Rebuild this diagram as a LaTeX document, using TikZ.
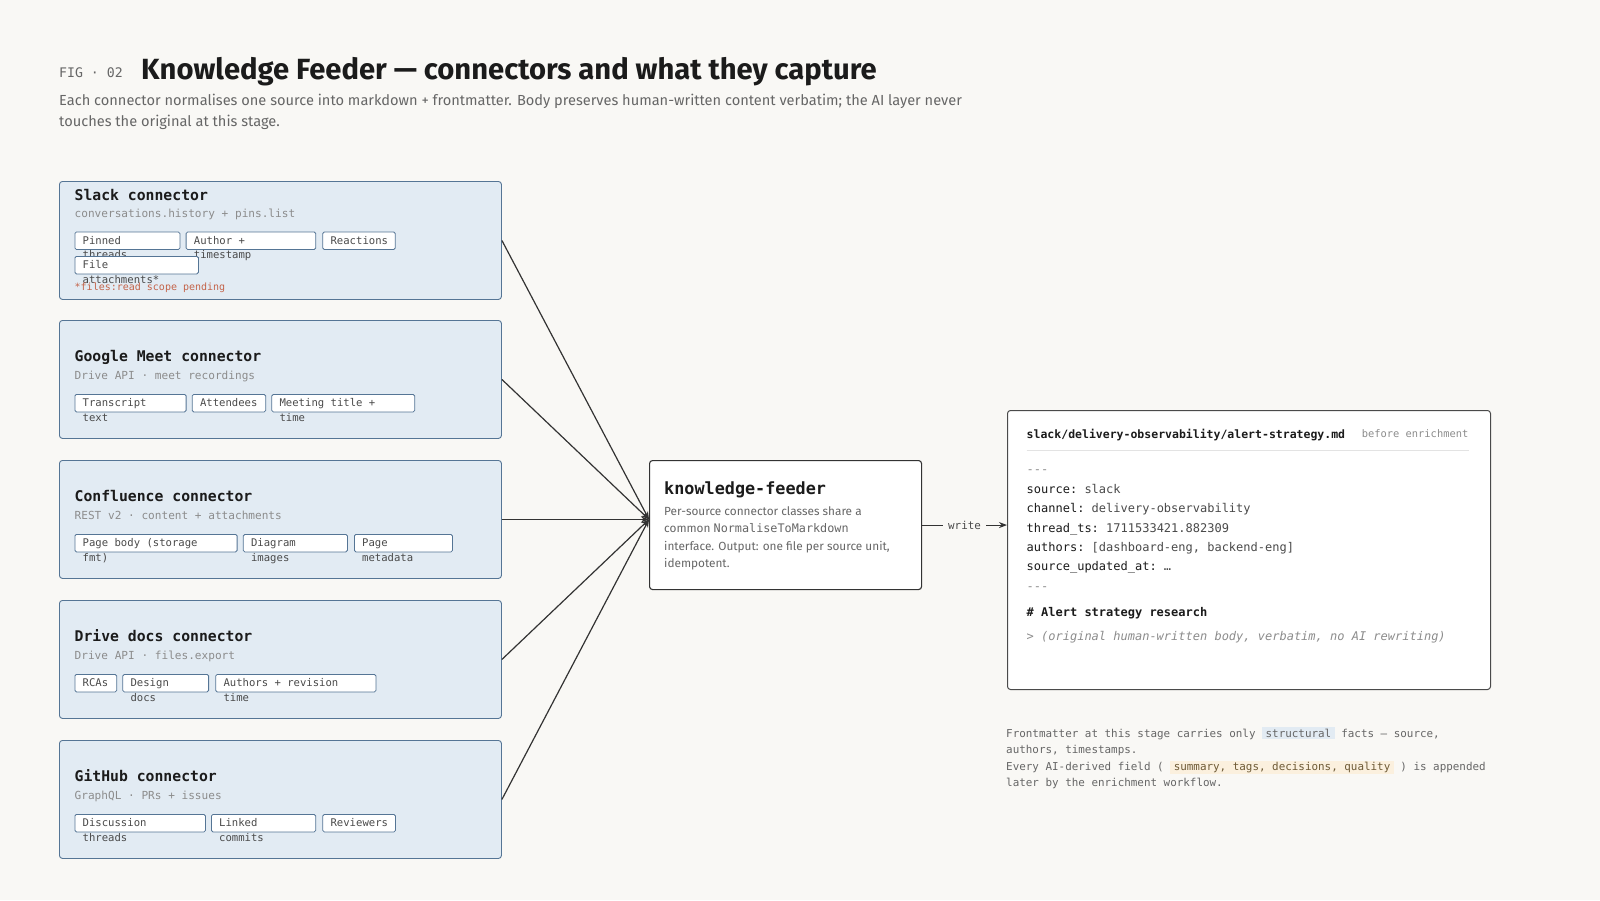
\documentclass[tikz,border=0pt]{standalone}
\usepackage{fontspec}
\setmainfont{Fira Sans}
\setmonofont{DejaVu Sans Mono}
\usetikzlibrary{arrows.meta}

\definecolor{pagebg}{HTML}{F9F8F5}
\definecolor{inkdark}{HTML}{1B1B1B}
\definecolor{inkmid}{HTML}{4A4A4A}
\definecolor{inkgray}{HTML}{666666}
\definecolor{inklight}{HTML}{8C8C8C}
\definecolor{srcfill}{HTML}{E2EBF3}
\definecolor{srcline}{HTML}{557595}
\definecolor{notered}{HTML}{C4644A}
\definecolor{arrowink}{HTML}{333333}
\definecolor{rulegray}{HTML}{E3E3E3}
\definecolor{hlblue}{HTML}{E2EBF3}
\definecolor{hlsand}{HTML}{FBF0DE}
\definecolor{sandink}{HTML}{6E5A36}

\newcommand{\fsz}[1]{\fontsize{#1}{#1}\selectfont}
% chip: name, x, top, width, first line, overflow line
\newcommand{\chip}[6]{%
  \node[chipbox, minimum width=#4] (#1) at (#2,#3) {};
  \node[chiptext] at ([xshift=8]#1.west) {#5};
  \node[chiptext] at ([xshift=8, yshift=-14.5]#1.west) {#6};
}
\newcommand{\fmkey}[1]{\textcolor{inkdark}{#1}}
\newcommand{\hlbox}[3]{{\setlength{\fboxsep}{1.5pt}\colorbox{#1}{\hspace{2pt}\textcolor{#2}{#3}\hspace{2pt}}}}

\begin{document}
\begin{tikzpicture}[x=1pt, y=-1pt,
  srcbox/.style={draw=srcline, fill=srcfill, line width=0.9pt, rounded corners=3pt,
    anchor=north west, minimum width=442pt, minimum height=118pt, inner sep=0pt},
  srctitle/.style={anchor=west, inner sep=0pt, text height=9.7pt, text depth=0pt,
    font=\ttfamily\bfseries\fsz{14.75}, text=inkdark},
  srcsub/.style={anchor=west, inner sep=0pt, text height=7.3pt, text depth=0pt,
    font=\ttfamily\fsz{11.1}, text=inklight},
  chipbox/.style={draw=srcline, fill=white, line width=0.8pt, rounded corners=1.5pt,
    anchor=north west, minimum height=17.5pt, inner sep=0pt},
  chiptext/.style={anchor=west, inner sep=0pt, text height=7pt, text depth=0pt,
    font=\ttfamily\fsz{10.6}, text=inkmid},
  pendnote/.style={anchor=west, inner sep=0pt, text height=6.6pt, text depth=0pt,
    font=\ttfamily\fsz{10}, text=notered},
  feed/.style={draw=arrowink, line width=1.2pt, -{Stealth[length=8pt, width=6pt]}},
  corebox/.style={draw=arrowink, fill=white, line width=1.1pt, rounded corners=3pt,
    anchor=north west, inner sep=0pt},
  coretitle/.style={anchor=west, inner sep=0pt, text height=11.1pt, text depth=0pt,
    font=\ttfamily\bfseries\fsz{16.8}, text=inkdark},
  coreline/.style={anchor=west, inner sep=0pt, text height=7.6pt, text depth=0pt,
    font=\fsz{11.8}, text=inkgray},
  fileline/.style={anchor=west, inner sep=0pt, text height=7.9pt, text depth=0pt,
    font=\ttfamily\fsz{12}, text=inkmid},
  noteline/.style={anchor=west, inner sep=0pt, text height=7.2pt, text depth=0pt,
    font=\ttfamily\fsz{10.9}, text=inkgray},
  writetag/.style={fill=pagebg, inner xsep=5pt, inner ysep=2pt,
    font=\ttfamily\fsz{10.9}, text=inkmid}]

  \fill[pagebg] (0,0) rectangle (1600,900);

  % heading
  \node[anchor=base west, inner sep=0pt, font=\ttfamily\fsz{13.2}, text=inkgray] (fig) at (59,77.6) {FIG · 02};
  \node[anchor=base west, inner sep=0pt, font=\bfseries\fsz{29.2}, text=inkdark] (title) at (141,79)
    {Knowledge Feeder — connectors and what they capture};
  \node[anchor=west, inner sep=0pt, text height=9.6pt, text depth=0pt, font=\fsz{14.6}, text=inkgray] (lead1) at (59,101)
    {Each connector normalises one source into markdown + frontmatter. Body preserves human-written content verbatim; the AI layer never};
  \node[anchor=west, inner sep=0pt, text height=9.6pt, text depth=0pt, font=\fsz{14.6}, text=inkgray] (lead2) at (59,121.5)
    {touches the original at this stage.};

  % source connectors
  \node[srcbox] (slack) at (59,181) {};
  \node[srctitle] at (74.5,196) {Slack connector};
  \node[srcsub] at (74.5,213.8) {conversations.history + pins.list};
  \chip{slpin}{74.5}{231.6}{105}{Pinned}{threads}
  \chip{slauth}{185.7}{231.6}{129.6}{Author +}{timestamp}
  \chip{slreact}{322.4}{231.6}{72.5}{Reactions}{}
  \chip{slfile}{74.5}{256}{123.5}{File}{attachments*}
  \node[pendnote] at (74.5,287.5) {*files:read scope pending};

  \node[srcbox] (meet) at (59,320) {};
  \node[srctitle] at (74.5,357) {Google Meet connector};
  \node[srcsub] at (74.5,376) {Drive API · meet recordings};
  \chip{mttrans}{74.5}{394}{111.2}{Transcript}{text}
  \chip{mtatt}{191.8}{394}{73.5}{Attendees}{}
  \chip{mttitle}{271.4}{394}{142.9}{Meeting title +}{time}

  \node[srcbox] (conf) at (59,460) {};
  \node[srctitle] at (74.5,497) {Confluence connector};
  \node[srcsub] at (74.5,516) {REST v2 · content + attachments};
  \chip{cfbody}{74.5}{534}{162.2}{Page body (storage}{fmt)}
  \chip{cfdiag}{242.9}{534}{104.1}{Diagram}{images}
  \chip{cfmeta}{354}{534}{98}{Page}{metadata}

  \node[srcbox] (drive) at (59,600) {};
  \node[srctitle] at (74.5,637) {Drive docs connector};
  \node[srcsub] at (74.5,656) {Drive API · files.export};
  \chip{dvrca}{74.5}{674}{41.8}{RCAs}{}
  \chip{dvdesign}{122.4}{674}{85.8}{Design}{docs}
  \chip{dvauth}{215.3}{674}{160.2}{Authors + revision}{time}

  \node[srcbox] (gh) at (59,740) {};
  \node[srctitle] at (74.5,777) {GitHub connector};
  \node[srcsub] at (74.5,796) {GraphQL · PRs + issues};
  \chip{ghdisc}{74.5}{814}{130.5}{Discussion}{threads}
  \chip{ghlink}{211}{814}{104.3}{Linked}{commits}
  \chip{ghrev}{322.4}{814}{72.6}{Reviewers}{}

  % knowledge-feeder
  \node[corebox, minimum width=272pt, minimum height=129pt] (feeder) at (649,460) {};
  \node[coretitle] at (664,488.5) {knowledge-feeder};
  \node[coreline] at (664,511.8) {Per-source connector classes share a};
  \node[coreline] at (664,529.1) {common \texttt{NormaliseToMarkdown}};
  \node[coreline] at (664,546.4) {interface. Output: one file per source unit,};
  \node[coreline] at (664,563.7) {idempotent.};

  \coordinate (hub) at (feeder.west |- conf.east);
  \foreach \src in {slack,meet,conf,drive,gh}
    \draw[feed] (\src.east) -- (hub);

  % output markdown file
  \node[corebox, draw=inkmid, line width=1pt, minimum width=483pt, minimum height=279pt] (mdfile) at (1007,410) {};
  \node[anchor=west, inner sep=0pt, text height=7.6pt, text depth=0pt, font=\ttfamily\bfseries\fsz{11.5}, text=inkdark]
    at (1026.5,434.5) {slack/delivery-observability/alert-strategy.md};
  \node[anchor=east, inner sep=0pt, text height=6.9pt, text depth=0pt, font=\ttfamily\fsz{10.4}, text=inklight]
    at (1468.5,434.5) {before enrichment};
  \draw[rulegray, line width=0.8pt] (1026.5,450) -- (1469.4,450);
  \node[fileline, text=inklight] at (1026.5,470) {---};
  \foreach \txt [count=\i] in {{\fmkey{source:} slack},
      {\fmkey{channel:} delivery-observability},
      {\fmkey{thread\_ts:} 1711533421.882309},
      {\fmkey{authors:} [dashboard-eng, backend-eng]},
      {\fmkey{source\_updated\_at:} …}}
    \node[fileline] at (1026.5,470+19.4*\i) {\txt};
  \node[fileline, text=inklight] at (1026.5,586.4) {---};
  \node[fileline, font=\ttfamily\bfseries\fsz{12}, text=inkdark] at (1026.5,612.8) {\# Alert strategy research};
  \node[fileline, font=\ttfamily\itshape\fsz{12}, text=inklight] at (1026.5,636.3)
    {> (original human-written body, verbatim, no AI rewriting)};

  \draw[feed, line width=1.1pt] (feeder.east) -- node[writetag] {write} (mdfile.west |- feeder.east);

  % footnote under the file
  \node[noteline] at (1006,733.5) {Frontmatter at this stage carries only \hlbox{hlblue}{inkgray}{structural} facts — source,};
  \node[noteline] at (1006,750) {authors, timestamps.};
  \node[noteline] at (1006,766.8) {Every AI-derived field ( \hlbox{hlsand}{sandink}{summary, tags, decisions, quality} ) is appended};
  \node[noteline] at (1006,783.3) {later by the enrichment workflow.};
\end{tikzpicture}
\end{document}
